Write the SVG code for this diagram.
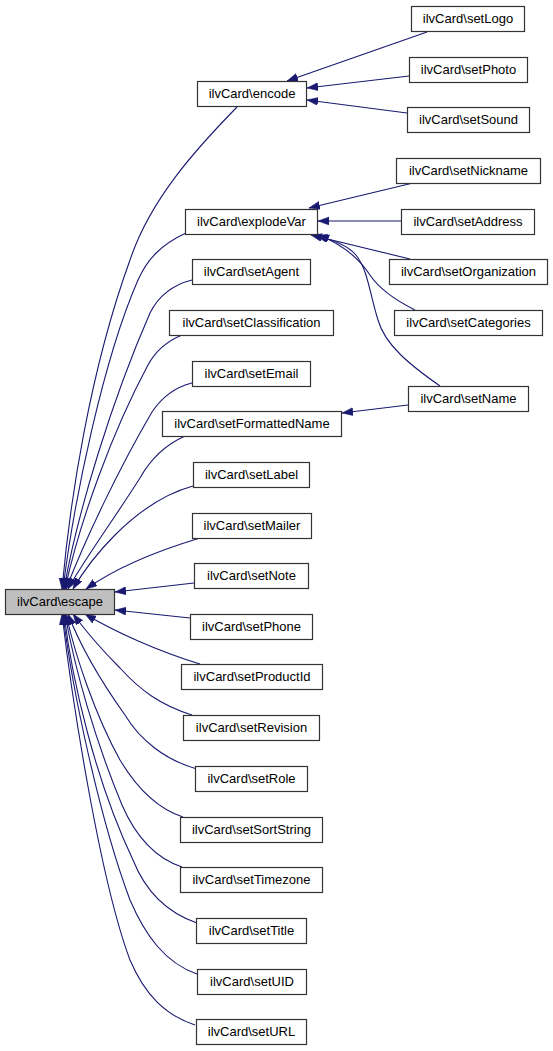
<svg xmlns="http://www.w3.org/2000/svg" width="553" height="1051" viewBox="0 0 553 1051">
<style>
.n rect{fill:#ffffff;stroke:#333333;stroke-width:1.2}
.n text{font-family:"Liberation Sans",Arial,sans-serif;font-size:13px;fill:#000000;text-anchor:middle}
#escape rect{fill:#bfbfbf}
.e path{fill:none;stroke:#191970;stroke-width:1.1;marker-end:url(#ah)}
</style>
<defs>
<marker id="ah" markerUnits="userSpaceOnUse" markerWidth="12" markerHeight="9" refX="11" refY="4" orient="auto">
<path d="M0,0 L11,4 L0,8 z" fill="#191970" stroke="#191970" stroke-width="0.5"/>
</marker>
</defs>
<rect width="553" height="1051" fill="#ffffff"/>
<g id="edges" class="e">
<path d="M427,32 L287,81"/>
<path d="M409,76 L307,88"/>
<path d="M407,113 L307,100"/>
<path d="M413,183 L309,208"/>
<path d="M401,221 L318,221"/>
<path d="M410,259 L311,235"/>
<path d="M415,310 C395,300 380,290 370,275 C360,260 345,245 318,235"/>
<path d="M440,386 C410,365 385,345 378,320 C370,295 368,270 356,255 C348,246 335,240 316,236"/>
<path d="M408,405 L342,413"/>
<path d="M237,107 C195,150 150,200 130,260 C90,370 70,500 62,589"/>
<path d="M186,233 C160,245 147,260 138,280 C103,360 74,500 63,589"/>
<path d="M192,280 C172,285 158,297 150,313 C112,400 78,510 64,589"/>
<path d="M182,335 C165,342 155,352 148,365 C113,430 80,520 65,589"/>
<path d="M192,383 C172,388 160,400 152,412 C118,470 85,540 66,589"/>
<path d="M185,436 C165,445 150,460 140,478 C110,525 84,560 68,589"/>
<path d="M193,486 C160,495 135,515 115,535 C98,552 84,570 73,589"/>
<path d="M200,538 C160,550 120,565 86,589"/>
<path d="M194,583 L115,592"/>
<path d="M190,618 L115,610"/>
<path d="M200,664 C160,652 115,632 85,614"/>
<path d="M192,715 C160,705 140,690 120,668 C100,648 85,630 73,614"/>
<path d="M197,769 C165,760 140,740 125,715 C100,680 80,645 68,614"/>
<path d="M183,817 C155,808 135,785 120,760 C95,715 75,655 66,614"/>
<path d="M182,867 C155,858 135,835 122,805 C95,740 75,670 65,614"/>
<path d="M197,923 C165,912 145,890 133,860 C95,780 72,680 64,614"/>
<path d="M197,974 C165,963 145,935 130,900 C100,820 72,690 63,614"/>
<path d="M195,1025 C165,1015 145,995 130,960 C100,880 72,700 62,614"/>
</g>
<g id="escape" class="n"><rect x="5.5" y="589.5" width="109" height="25"/><text x="60" y="606">ilvCard\escape</text></g>
<g id="encode" class="n"><rect x="197.5" y="81.5" width="109" height="25"/><text x="252" y="98">ilvCard\encode</text></g>
<g id="setLogo" class="n"><rect x="411.5" y="6.5" width="113" height="25"/><text x="468" y="23">ilvCard\setLogo</text></g>
<g id="setPhoto" class="n"><rect x="409.5" y="57.5" width="118" height="25"/><text x="468.5" y="74">ilvCard\setPhoto</text></g>
<g id="setSound" class="n"><rect x="407.5" y="107.5" width="122" height="25"/><text x="468.5" y="124">ilvCard\setSound</text></g>
<g id="explodeVar" class="n"><rect x="185.5" y="209.5" width="132" height="25"/><text x="251.5" y="226">ilvCard\explodeVar</text></g>
<g id="setNickname" class="n"><rect x="396.5" y="158.5" width="144" height="25"/><text x="468.5" y="175">ilvCard\setNickname</text></g>
<g id="setAddress" class="n"><rect x="401.5" y="209.5" width="133" height="25"/><text x="468" y="226">ilvCard\setAddress</text></g>
<g id="setOrganization" class="n"><rect x="389.5" y="259.5" width="158" height="25"/><text x="468.5" y="276">ilvCard\setOrganization</text></g>
<g id="setCategories" class="n"><rect x="394.5" y="310.5" width="148" height="25"/><text x="468.5" y="327">ilvCard\setCategories</text></g>
<g id="setName" class="n"><rect x="408.5" y="386.5" width="120" height="25"/><text x="468.5" y="403">ilvCard\setName</text></g>
<g id="setAgent" class="n"><rect x="192.5" y="259.5" width="118" height="25"/><text x="251.5" y="276">ilvCard\setAgent</text></g>
<g id="setClassification" class="n"><rect x="169.5" y="310.5" width="164" height="25"/><text x="251.5" y="327">ilvCard\setClassification</text></g>
<g id="setEmail" class="n"><rect x="192.5" y="361.5" width="118" height="25"/><text x="251.5" y="378">ilvCard\setEmail</text></g>
<g id="setFormattedName" class="n"><rect x="162.5" y="411.5" width="179" height="25"/><text x="252" y="428">ilvCard\setFormattedName</text></g>
<g id="setLabel" class="n"><rect x="193.5" y="462.5" width="116" height="25"/><text x="251.5" y="479">ilvCard\setLabel</text></g>
<g id="setMailer" class="n"><rect x="192.5" y="513.5" width="119" height="25"/><text x="252" y="530">ilvCard\setMailer</text></g>
<g id="setNote" class="n"><rect x="194.5" y="563.5" width="114" height="25"/><text x="251.5" y="580">ilvCard\setNote</text></g>
<g id="setPhone" class="n"><rect x="190.5" y="614.5" width="122" height="25"/><text x="251.5" y="631">ilvCard\setPhone</text></g>
<g id="setProductId" class="n"><rect x="181.5" y="664.5" width="141" height="25"/><text x="252" y="681">ilvCard\setProductId</text></g>
<g id="setRevision" class="n"><rect x="183.5" y="715.5" width="136" height="25"/><text x="251.5" y="732">ilvCard\setRevision</text></g>
<g id="setRole" class="n"><rect x="195.5" y="766.5" width="112" height="25"/><text x="251.5" y="783">ilvCard\setRole</text></g>
<g id="setSortString" class="n"><rect x="180.5" y="817.5" width="142" height="25"/><text x="251.5" y="834">ilvCard\setSortString</text></g>
<g id="setTimezone" class="n"><rect x="180.5" y="867.5" width="142" height="25"/><text x="251.5" y="884">ilvCard\setTimezone</text></g>
<g id="setTitle" class="n"><rect x="196.5" y="918.5" width="110" height="25"/><text x="251.5" y="935">ilvCard\setTitle</text></g>
<g id="setUID" class="n"><rect x="197.5" y="969.5" width="109" height="25"/><text x="252" y="986">ilvCard\setUID</text></g>
<g id="setURL" class="n"><rect x="196.5" y="1019.5" width="110" height="25"/><text x="251.5" y="1036">ilvCard\setURL</text></g>
</svg>
